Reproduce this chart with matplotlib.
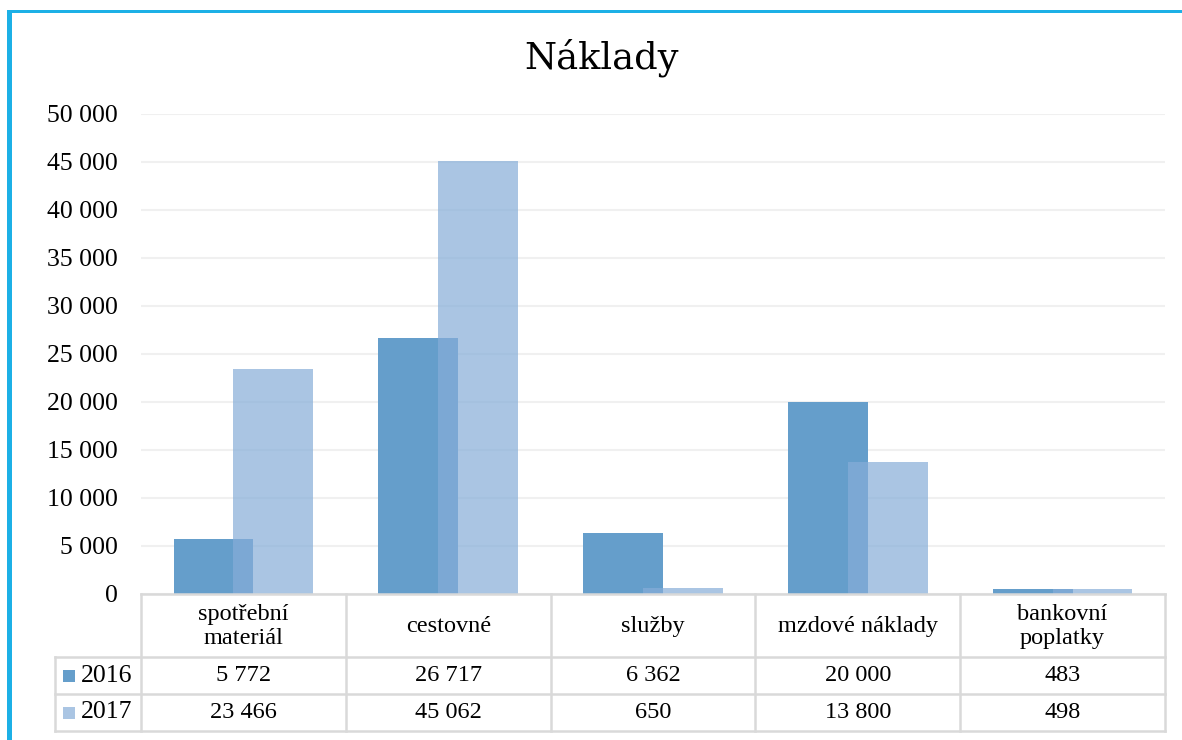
import matplotlib
matplotlib.use("Agg")
import matplotlib.pyplot as plt
from matplotlib.lines import Line2D
from matplotlib.patches import Rectangle
import numpy as np

categories = ["spotřební\nmateriál", "cestovné", "služby", "mzdové náklady", "bankovní\npoplatky"]
series_names = ["2016", "2017"]
values_2016 = [5772, 26717, 6362, 20000, 483]
values_2017 = [23466, 45062, 650, 13800, 498]
yticks = [0, 5000, 10000, 15000, 20000, 25000, 30000, 35000, 40000, 45000, 50000]
title = "Náklady"

col2016 = "#659ECB"
col2017 = "#86ADD8"
alpha2017 = 0.7
grid_col = "#F0F0F0"
table_col = "#D9D9D9"
border_col = "#1CB0E6"
FONT = "Liberation Serif"
TFONT = "DejaVu Serif"
FS = 17.5
FS_TICK = 18.5

W, H = 1182, 740
fig = plt.figure(figsize=(W / 100, H / 100), dpi=100)

def fx(px):
    return px / W

def fy(py):
    return 1 - py / H

def fmt(v):
    return f"{v:,}".replace(",", " ")

# main axes
ax_l, ax_r, ax_t, ax_b = 141, 1165, 114, 594
ax = fig.add_axes([fx(ax_l), fy(ax_b), fx(ax_r - ax_l), fy(ax_t) - fy(ax_b)])
n = len(categories)
x = np.arange(n)
bw = 0.39
off = 0.146
ax.bar(x - off, values_2016, width=bw, color=col2016, zorder=2)
ax.bar(x + off, values_2017, width=bw, color=col2017, alpha=alpha2017, zorder=3)
ax.set_xlim(-0.5, n - 0.5)
ax.set_ylim(0, 50000)
ax.set_yticks(yticks)
ax.set_yticklabels([fmt(v) for v in yticks], fontsize=FS_TICK, family=FONT)
ax.tick_params(axis="y", length=0, pad=16.5)
ax.set_xticks([])
for s in ax.spines.values():
    s.set_visible(False)
ax.yaxis.grid(True, color=grid_col, linewidth=1.5, zorder=0)
ax.set_axisbelow(True)

# title
fig.text(fx(602), fy(58), title, ha="center", va="center", fontsize=26.5, family=TFONT)

# data table
left_px = 55
cat_w = (ax_r - ax_l) / n
rows_y = [594, 657, 694, 731]

def line(x0, y0, x1, y1):
    fig.add_artist(Line2D([fx(x0), fx(x1)], [fy(y0), fy(y1)], color=table_col, linewidth=1.8, zorder=5))

line(ax_l, rows_y[0], ax_r, rows_y[0])
for yy in rows_y[1:]:
    line(left_px, yy, ax_r, yy)
for i in range(n + 1):
    xx = ax_l + i * cat_w
    line(xx, rows_y[0], xx, rows_y[3])
line(left_px, rows_y[1], left_px, rows_y[3])

for i, c in enumerate(categories):
    cx = ax_l + (i + 0.5) * cat_w
    fig.text(fx(cx), fy((rows_y[0] + rows_y[1]) / 2 + 1), c, ha="center", va="center",
             fontsize=FS, family=FONT, linespacing=1.2)
    for r, vals in enumerate([values_2016, values_2017]):
        cy = (rows_y[r + 1] + rows_y[r + 2]) / 2
        fig.text(fx(cx), fy(cy), fmt(vals[i]), ha="center", va="center",
                 fontsize=FS, family=FONT)

for r, (name, col, a) in enumerate([(series_names[0], col2016, 1.0), (series_names[1], col2017, alpha2017)]):
    cy = (rows_y[r + 1] + rows_y[r + 2]) / 2
    fig.add_artist(Rectangle((fx(63), fy(cy + 6)), fx(12), fy(cy - 6) - fy(cy + 6),
                             facecolor=col, alpha=a, edgecolor="none"))
    fig.text(fx(81), fy(cy), name, ha="left", va="center", fontsize=FS_TICK, family=FONT)

# blue border (top and left)
fig.add_artist(Rectangle((fx(7), fy(13)), fx(W - 7), fy(10) - fy(13), facecolor=border_col, edgecolor="none"))
fig.add_artist(Rectangle((fx(7), 0), fx(5), fy(10), facecolor=border_col, edgecolor="none"))

fig.savefig("out.png", dpi=100, facecolor="white")
